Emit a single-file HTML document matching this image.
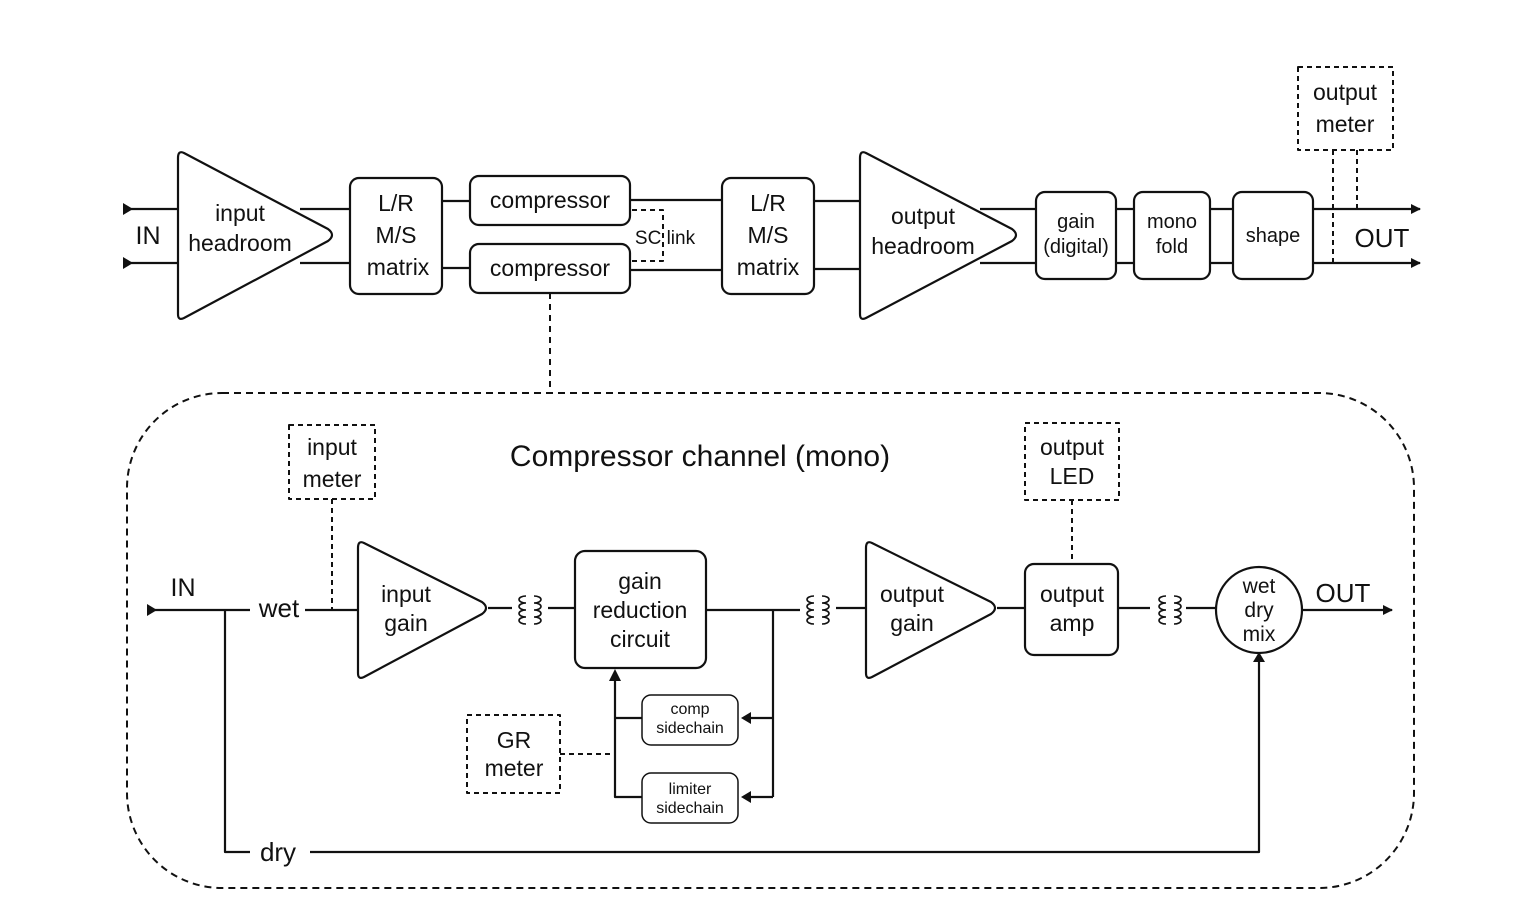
<!DOCTYPE html>
<html><head><meta charset="utf-8"><style>body{margin:0;background:#fff}svg{display:block}text{font-family:"Liberation Sans",sans-serif;fill:#111}</style></head><body>
<svg width="1540" height="902" viewBox="0 0 1540 902" xmlns="http://www.w3.org/2000/svg">
<defs><marker id="a" markerWidth="10" markerHeight="10" refX="9" refY="5" orient="auto" markerUnits="userSpaceOnUse"><path d="M0,0L10,5L0,10Z" fill="#111"/></marker>
<g id="tf" fill="none" stroke="#111" stroke-width="1.6"><path d="M12,0 a7,3.5 0 0 0 0,7 a7,3.5 0 0 0 0,7 a7,3.5 0 0 0 0,7 a7,3.5 0 0 0 0,7"/><path d="M20,0 a7,3.5 0 0 1 0,7 a7,3.5 0 0 1 0,7 a7,3.5 0 0 1 0,7 a7,3.5 0 0 1 0,7"/></g></defs>
<g fill="none" stroke="#111" stroke-width="2.2" stroke-linejoin="round">
<!-- top -->
<path d="M123,209H178M123,263H178"/>
<path d="M123,203V215L133,209ZM123,257V269L133,263Z" fill="#111" stroke="none"/>
<path d="M184,153 L328,229 Q336,235 328,241 L184,318 Q178,321 178,314 V158 Q178,150 184,153Z" fill="#fff"/>
<path d="M300,209H350M300,263H350"/>
<rect x="350" y="178" width="92" height="116" rx="9" fill="#fff"/>
<path d="M442,201H470M442,268H470"/>
<rect x="470" y="176" width="160" height="49" rx="9" fill="#fff"/>
<rect x="470" y="244" width="160" height="49" rx="9" fill="#fff"/>
<path d="M630,200H722M630,270H722"/>
<path d="M632,210H663V261H632" stroke-dasharray="5,4" stroke-width="2"/>
<rect x="722" y="178" width="92" height="116" rx="9" fill="#fff"/>
<path d="M814,201H860M814,269H860"/>
<path d="M866,153 L1012,229 Q1020,235 1012,241 L866,318 Q860,321 860,314 V158 Q860,150 866,153Z" fill="#fff"/>
<path d="M980,209H1036M980,263H1036"/>
<rect x="1036" y="192" width="80" height="87" rx="9" fill="#fff"/>
<path d="M1116,209H1134M1116,263H1134"/>
<rect x="1134" y="192" width="76" height="87" rx="9" fill="#fff"/>
<path d="M1210,209H1233M1210,263H1233"/>
<rect x="1233" y="192" width="80" height="87" rx="9" fill="#fff"/>
<path d="M1313,209H1420" marker-end="url(#a)"/>
<path d="M1313,263H1420" marker-end="url(#a)"/>
<rect x="1298" y="67" width="95" height="83" stroke-dasharray="5,4" stroke-width="2"/>
<path d="M1333,150V263M1357,150V209" stroke-dasharray="5,4" stroke-width="2"/>
<path d="M550,293V393" stroke-dasharray="6,5" stroke-width="2"/>
<rect x="127" y="393" width="1287" height="495" rx="95" stroke-dasharray="7,5" stroke-width="2"/>
<!-- bottom -->
<path d="M147,610H250M225,610V852H250M310,852H1259V652" />
<path d="M147,604V616L157,610Z" fill="#111" stroke="none"/>
<path d="M1253,662L1259,652L1265,662Z" fill="#111" stroke="none"/>
<path d="M305,610H358"/>
<rect x="289" y="425" width="86" height="74" stroke-dasharray="5,4" stroke-width="2"/>
<path d="M332,499V610" stroke-dasharray="5,4" stroke-width="2"/>
<path d="M364,543 L482,602 Q490,608 482,614 L364,677 Q358,680 358,673 V548 Q358,540 364,543Z" fill="#fff"/>
<path d="M488,608H512M548,608H575"/>
<rect x="575" y="551" width="131" height="117" rx="10" fill="#fff"/>
<path d="M706,610H800M773,610V797M773,718H743M773,797H743"/>
<path d="M741,718L751,712V724ZM741,797L751,791V803Z" fill="#111" stroke="none"/>
<path d="M642,718H615M642,797H615V680"/>
<path d="M609,681L615,669L621,681Z" fill="#111" stroke="none"/>
<rect x="642" y="695" width="96" height="50" rx="9" fill="#fff" stroke-width="1.5"/>
<rect x="642" y="773" width="96" height="50" rx="9" fill="#fff" stroke-width="1.5"/>
<rect x="467" y="715" width="93" height="78" stroke-dasharray="5,4" stroke-width="2"/>
<path d="M560,754H613" stroke-dasharray="5,4" stroke-width="2"/>
<path d="M836,608H866"/>
<path d="M872,543 L991,602 Q999,608 991,614 L872,677 Q866,680 866,673 V548 Q866,540 872,543Z" fill="#fff"/>
<path d="M997,608H1025"/>
<rect x="1025" y="564" width="93" height="91" rx="9" fill="#fff"/>
<rect x="1025" y="423" width="94" height="77" stroke-dasharray="5,4" stroke-width="2"/>
<path d="M1072,500V564" stroke-dasharray="5,4" stroke-width="2"/>
<path d="M1118,608H1150M1186,608H1216"/>
<circle cx="1259" cy="610" r="43" fill="#fff"/>
<path d="M1302,610H1392" marker-end="url(#a)"/>
</g>
<use href="#tf" x="514" y="596"/>
<use href="#tf" x="802" y="596"/>
<use href="#tf" x="1154" y="596"/>
<g font-size="23" text-anchor="middle">
<text x="148" y="244" font-size="25">IN</text>
<text x="240" y="221">input</text><text x="240" y="251">headroom</text>
<text x="396" y="211">L/R</text><text x="396" y="243">M/S</text><text x="398" y="275">matrix</text>
<text x="550" y="208">compressor</text><text x="550" y="276">compressor</text>
<text x="665" y="244" font-size="19">SC link</text>
<text x="768" y="211">L/R</text><text x="768" y="243">M/S</text><text x="768" y="275">matrix</text>
<text x="923" y="224">output</text><text x="923" y="254">headroom</text>
<text x="1076" y="228" font-size="20">gain</text><text x="1076" y="253" font-size="20">(digital)</text>
<text x="1172" y="228" font-size="20">mono</text><text x="1172" y="253" font-size="20">fold</text>
<text x="1273" y="242" font-size="20">shape</text>
<text x="1382" y="247" font-size="26">OUT</text>
<text x="1345" y="100">output</text><text x="1345" y="132">meter</text>
<text x="700" y="466" font-size="30">Compressor channel (mono)</text>
<text x="183" y="596" font-size="25">IN</text>
<text x="279" y="617" font-size="26">wet</text>
<text x="278" y="861" font-size="26">dry</text>
<text x="332" y="455">input</text><text x="332" y="487">meter</text>
<text x="406" y="602">input</text><text x="406" y="631">gain</text>
<text x="640" y="589">gain</text><text x="640" y="618">reduction</text><text x="640" y="647">circuit</text>
<text x="690" y="714" font-size="16">comp</text><text x="690" y="733" font-size="16">sidechain</text>
<text x="690" y="794" font-size="16">limiter</text><text x="690" y="813" font-size="16">sidechain</text>
<text x="514" y="748">GR</text><text x="514" y="776">meter</text>
<text x="912" y="602">output</text><text x="912" y="631">gain</text>
<text x="1072" y="455">output</text><text x="1072" y="484">LED</text>
<text x="1072" y="602">output</text><text x="1072" y="631">amp</text>
<text x="1259" y="593" font-size="21">wet</text><text x="1259" y="617" font-size="21">dry</text><text x="1259" y="641" font-size="21">mix</text>
<text x="1343" y="602" font-size="26">OUT</text>
</g>
</svg>
</body></html>
